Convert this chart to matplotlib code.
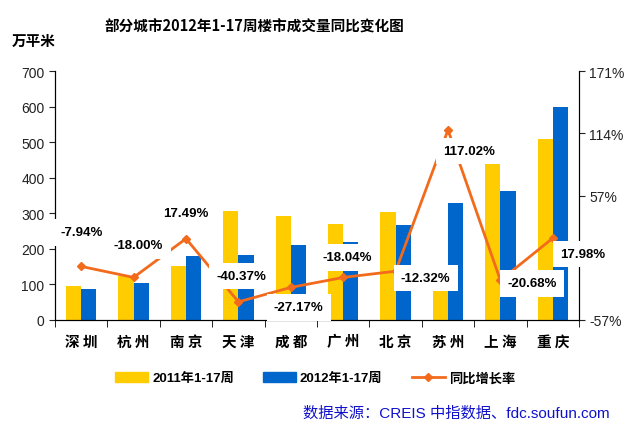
import numpy as np
import matplotlib
matplotlib.use("Agg")
import matplotlib.pyplot as plt
from matplotlib.lines import Line2D
from matplotlib.patches import Patch

plt.rcParams['font.family'] = ['Liberation Sans', 'Noto Sans CJK SC', 'DejaVu Sans']

cities = ["深圳", "杭州", "南京", "天津", "成都", "广州", "北京", "苏州", "上海", "重庆"]
vol_2011 = [95, 125, 152, 307, 291, 270, 303, 152, 458, 508]
vol_2012 = [87, 105, 179, 182, 211, 220, 267, 329, 363, 600]
growth = [-7.94, -18.00, 17.49, -40.37, -27.17, -18.04, -12.32, 117.02, -20.68, 17.98]
right_ticks = [-57, 0, 57, 114, 171]

# label offsets (pixels, up is positive) from each line point
label_off = [(0, 34), (5, 32), (0, 26), (3, 26), (8, -20),
             (4, 20), (30, -7), (21, -21), (32, -3), (30, -16)]

yellow = "#FFCC00"
blue = "#0066CC"
orange = "#F26B1D"

fig = plt.figure(figsize=(6.44, 4.35), dpi=100)
ax = fig.add_axes([55/644, 1-321/435, 524/644, 249/435])
ax2 = ax.twinx()

x = np.arange(len(cities))
w = 0.29
ax.bar(x - w/2, vol_2011, w, color=yellow, zorder=2)
ax.bar(x + w/2, vol_2012, w, color=blue, zorder=2)

ax.set_xlim(-0.5, len(cities) - 0.5)
ax.set_ylim(0, 700)
ax.set_yticks(range(0, 701, 100))
ax.set_xticks(x)
ax.set_xticklabels([" ".join(c) for c in cities], family=['Noto Sans CJK SC'],
                   fontweight='bold', fontsize=10.5)
ax.set_xticks(np.arange(-0.5, len(cities)), minor=True)
ax.tick_params(axis='x', which='major', length=0, pad=9)
ax.tick_params(axis='x', which='minor', length=5, direction='out')
ax.tick_params(axis='y', labelsize=10, length=4, direction='out', colors='#222222')
ax.spines['top'].set_visible(False)

ax2.plot(x, growth, color=orange, lw=2, marker='D', ms=4.5, zorder=3)
ax2.set_ylim(-57, 171)
ax2.set_yticks(right_ticks)
ax2.set_yticklabels([f"{t}%" for t in right_ticks])
ax2.tick_params(axis='y', labelsize=10, length=4, direction='out', colors='#222222')
ax2.spines['top'].set_visible(False)

for i, g in enumerate(growth):
    ax2.annotate(f"{g:.2f}%", xy=(x[i], g), xytext=label_off[i],
                 textcoords='offset pixels', ha='center', va='center',
                 fontsize=9.5, fontweight='bold', zorder=5,
                 bbox=dict(boxstyle='square,pad=0.55', fc='white', ec='none'))

fig.text(254/644, 1-27/435, "部分城市2012年1-17周楼市成交量同比变化图",
         family=['Noto Sans CJK SC'], fontweight='bold', fontsize=10.5,
         ha='center', va='center')
fig.text(12/644, 1-41/435, "万平米", family=['Noto Sans CJK SC'],
         fontweight='bold', fontsize=10.5, ha='left', va='center')

handles = [Patch(color=yellow), Patch(color=blue),
           Line2D([], [], color=orange, lw=2, marker='D', ms=4)]
labels = ["2011年1-17周", "2012年1-17周", "同比增长率"]
fig.legend(handles, labels, loc='center', bbox_to_anchor=(315/644, 1-379/435),
           ncol=3, frameon=False, prop={'weight': 'bold', 'size': 9.5},
           handlelength=2.5, handleheight=0.8, handletextpad=0.3, columnspacing=2.2)

fig.text(610/644, 1-414/435, "数据来源：CREIS 中指数据、fdc.soufun.com",
         color="#1010CC", fontsize=11, ha='right', va='center',
         family=['Liberation Sans', 'Noto Sans CJK SC'])

fig.savefig("out.png", dpi=100)
